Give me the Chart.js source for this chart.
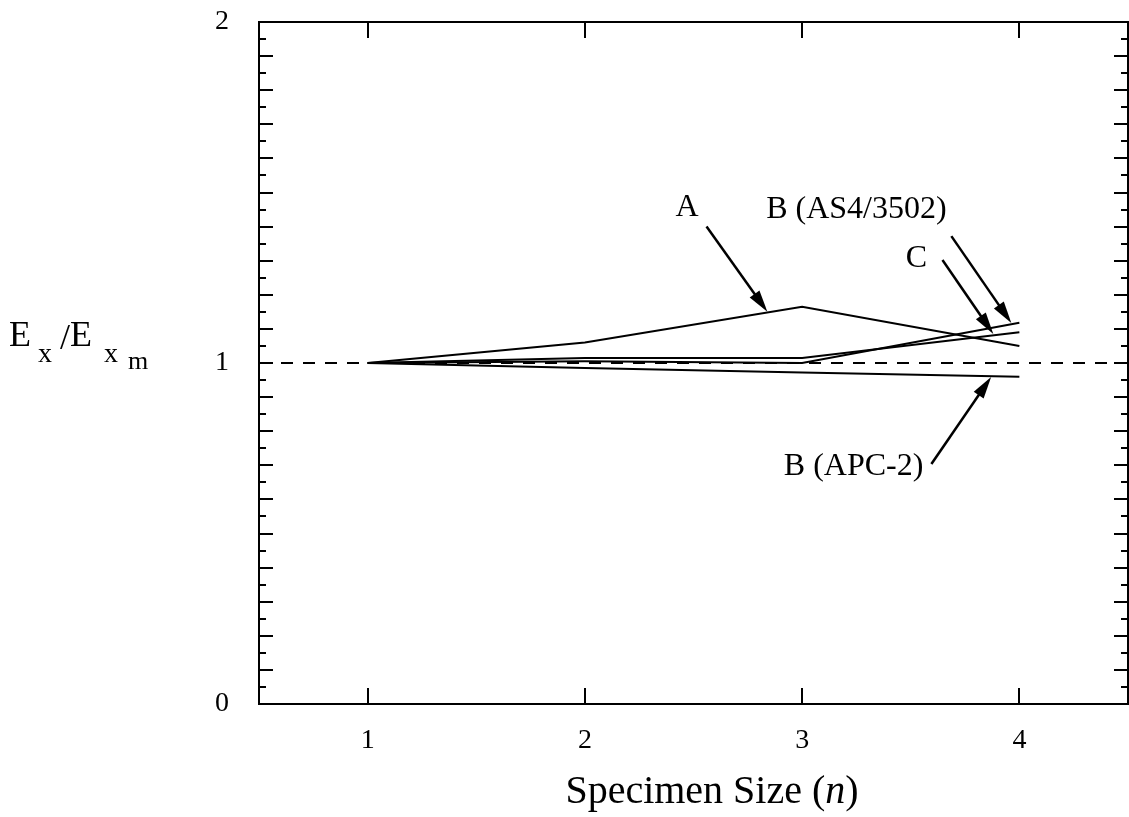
<!DOCTYPE html>
<html>
<head>
<meta charset="utf-8">
<script src="https://cdn.jsdelivr.net/npm/chart.js@4/dist/chart.umd.min.js"></script>
<style>
  html, body { margin: 0; padding: 0; background: #fff; }
  canvas { display: block; }
</style>
</head>
<body>
<canvas id="ratio-chart" width="1129" height="817"></canvas>
<script>
// values
const specimenSize = [1, 2, 3, 4];
const curveA = [1.0, 1.06, 1.165, 1.05];
const curveB_AS4 = [1.0, 1.005, 1.0, 1.118];
const curveC = [1.0, 1.015, 1.015, 1.09];
const curveB_APC = [1.0, 0.985, 0.972, 0.96];
const refLevel = 1;
const xTicks = [1, 2, 3, 4];
const yTicks = [0, 1, 2];

// annotation labels + arrows (data units)
const noteText = ["A", "B (AS4/3502)", "C", "B (APC-2)"];
const noteAt = [[2.47, 1.431], [3.25, 1.425], [3.526, 1.282], [3.237, 0.672]];
const arrowFrom = [[2.56, 1.40], [3.687, 1.372], [3.646, 1.302], [3.595, 0.704]];
const arrowTo = [[2.84, 1.15], [3.963, 1.117], [3.88, 1.085], [3.87, 0.959]];

const SERIF = "'Liberation Serif', 'Times New Roman', serif";
Chart.defaults.font.family = SERIF;
Chart.defaults.color = "#000";

function toPoints(vals) {
  return specimenSize.map((s, i) => ({ x: s, y: vals[i] }));
}

function lineSet(label, vals) {
  return {
    label: label,
    data: toPoints(vals),
    borderColor: "#000",
    borderWidth: 2,
    pointRadius: 0,
    tension: 0,
    fill: false,
  };
}

function arrow(ctx, x0, y0, x1, y1) {
  const ang = Math.atan2(y1 - y0, x1 - x0);
  const head = 22, half = 6;
  ctx.beginPath();
  ctx.moveTo(x0, y0);
  ctx.lineTo(x1 - Math.cos(ang) * head * 0.8, y1 - Math.sin(ang) * head * 0.8);
  ctx.stroke();
  ctx.beginPath();
  ctx.moveTo(x1, y1);
  ctx.lineTo(x1 - head * Math.cos(ang) + half * Math.sin(ang), y1 - head * Math.sin(ang) - half * Math.cos(ang));
  ctx.lineTo(x1 - head * Math.cos(ang) - half * Math.sin(ang), y1 - head * Math.sin(ang) + half * Math.cos(ang));
  ctx.closePath();
  ctx.fill();
}

const framePlugin = {
  id: "framePlugin",
  afterDatasetsDraw(chart) {
    const { ctx, scales: { x, y } } = chart;
    const L = x.getPixelForValue(0.5), R = x.getPixelForValue(4.5);
    const T = y.getPixelForValue(2), B = y.getPixelForValue(0);
    ctx.save();
    ctx.strokeStyle = "#000";
    ctx.fillStyle = "#000";
    ctx.lineWidth = 2;
    ctx.strokeRect(L, T, R - L, B - T);

    // inward ticks
    ctx.beginPath();
    xTicks.forEach(v => {
      const px = Math.round(x.getPixelForValue(v));
      ctx.moveTo(px, B); ctx.lineTo(px, B - 16);
      ctx.moveTo(px, T); ctx.lineTo(px, T + 16);
    });
    for (let i = 1; i < 40; i++) {
      const py = Math.round(y.getPixelForValue(i * 0.05));
      const len = i % 2 === 0 ? 14 : 7;
      ctx.moveTo(L, py); ctx.lineTo(L + len, py);
      ctx.moveTo(R, py); ctx.lineTo(R - len, py);
    }
    ctx.stroke();

    // tick labels
    ctx.font = "28px " + SERIF;
    ctx.textAlign = "center";
    ctx.textBaseline = "alphabetic";
    xTicks.forEach(v => ctx.fillText(String(v), x.getPixelForValue(v), B + 44));
    ctx.textAlign = "right";
    ctx.textBaseline = "middle";
    yTicks.forEach(v => ctx.fillText(String(v), L - 30, y.getPixelForValue(v)));

    // annotations
    ctx.font = "32px " + SERIF;
    ctx.textAlign = "center";
    ctx.textBaseline = "alphabetic";
    noteText.forEach((t, i) => {
      ctx.fillText(t, x.getPixelForValue(noteAt[i][0]), y.getPixelForValue(noteAt[i][1]));
    });
    ctx.lineWidth = 2.5;
    arrowFrom.forEach((p, i) => {
      arrow(ctx,
        x.getPixelForValue(p[0]), y.getPixelForValue(p[1]),
        x.getPixelForValue(arrowTo[i][0]), y.getPixelForValue(arrowTo[i][1]));
    });

    // x axis title with italic n
    const parts = [["Specimen Size (", ""], ["n", "italic "], [")", ""]];
    let total = 0;
    parts.forEach(p => { ctx.font = p[1] + "40px " + SERIF; total += ctx.measureText(p[0]).width; });
    let cx = 712 - total / 2;
    ctx.textAlign = "left";
    parts.forEach(p => {
      ctx.font = p[1] + "40px " + SERIF;
      ctx.fillText(p[0], cx, 803);
      cx += ctx.measureText(p[0]).width;
    });

    // y axis title E_x / E_x_m
    ctx.font = "36px " + SERIF;
    ctx.fillText("E", 9, 346);
    ctx.font = "28px " + SERIF;
    ctx.fillText("x", 38, 362);
    ctx.font = "36px " + SERIF;
    ctx.fillText("/", 60, 349);
    ctx.fillText("E", 70, 346);
    ctx.font = "28px " + SERIF;
    ctx.fillText("x", 104, 362);
    ctx.font = "26px " + SERIF;
    ctx.fillText("m", 128, 369);
    ctx.restore();
  },
};

new Chart(document.getElementById("ratio-chart"), {
  type: "line",
  data: {
    datasets: [
      lineSet("A", curveA),
      lineSet("B (AS4/3502)", curveB_AS4),
      lineSet("C", curveC),
      lineSet("B (APC-2)", curveB_APC),
      {
        label: "reference",
        data: [{ x: 0.5, y: refLevel }, { x: 4.5, y: refLevel }],
        borderColor: "#000",
        borderWidth: 2,
        borderDash: [12, 10],
        pointRadius: 0,
        fill: false,
      },
    ],
  },
  options: {
    responsive: false,
    devicePixelRatio: 1,
    animation: false,
    layout: { padding: { top: 22, right: 1, left: 259, bottom: 113 } },
    plugins: { legend: { display: false }, tooltip: { enabled: false } },
    scales: {
      x: { type: "linear", min: 0.5, max: 4.5, display: false },
      y: { type: "linear", min: 0, max: 2, display: false },
    },
  },
  plugins: [framePlugin],
});
</script>
</body>
</html>
